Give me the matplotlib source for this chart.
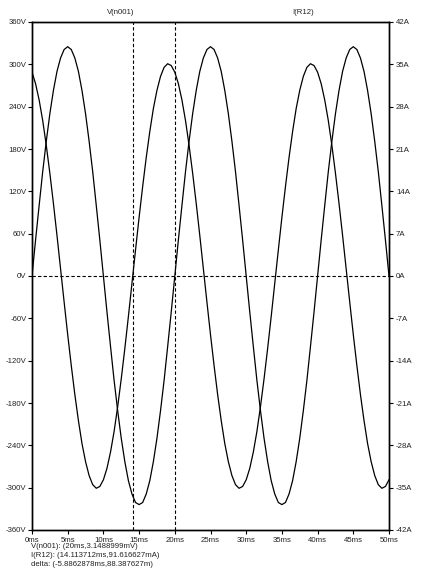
import matplotlib
matplotlib.use("Agg")
import matplotlib.pyplot as plt

# time axis in ms (0.5 ms steps, 0..50 ms)
time_ms = [i * 0.5 for i in range(101)]

# V(n001) in volts
v_n001 = [
    0, 51, 100, 148, 191, 230, 263, 290, 309, 321,
    325, 321, 309, 290, 263, 230, 191, 148, 100, 51,
    0, -51, -100, -148, -191, -230, -263, -290, -309, -321,
    -324, -321, -309, -290, -263, -230, -191, -148, -100, -51,
    0, 51, 100, 148, 191, 230, 263, 290, 309, 321,
    325, 321, 309, 290, 263, 230, 191, 148, 100, 51,
    0, -51, -100, -148, -191, -230, -263, -290, -309, -321,
    -324, -321, -309, -290, -263, -230, -191, -148, -100, -51,
    0, 51, 100, 148, 191, 230, 263, 290, 309, 321,
    325, 321, 309, 290, 263, 230, 191, 148, 100, 51,
    0,
]

# I(R12) in amperes
i_r12 = [
    33.7, 31.8, 29.1, 25.7, 21.6, 17.0, 12.0, 6.7, 1.2, -4.3,
    -9.7, -14.8, -19.6, -23.9, -27.7, -30.7, -33.0, -34.5, -35.1, -34.8,
    -33.7, -31.8, -29.1, -25.7, -21.6, -17.0, -12.0, -6.7, -1.2, 4.3,
    9.7, 14.8, 19.6, 23.9, 27.7, 30.7, 33.0, 34.5, 35.1, 34.8,
    33.7, 31.8, 29.1, 25.7, 21.6, 17.0, 12.0, 6.7, 1.2, -4.3,
    -9.7, -14.8, -19.6, -23.9, -27.7, -30.7, -33.0, -34.5, -35.1, -34.8,
    -33.7, -31.8, -29.1, -25.7, -21.6, -17.0, -12.0, -6.7, -1.2, 4.3,
    9.7, 14.8, 19.6, 23.9, 27.7, 30.7, 33.0, 34.5, 35.1, 34.8,
    33.7, 31.8, 29.1, 25.7, 21.6, 17.0, 12.0, 6.7, 1.2, -4.3,
    -9.7, -14.8, -19.6, -23.9, -27.7, -30.7, -33.0, -34.5, -35.1, -34.8,
    -33.7,
]

x_ticks = [0, 5, 10, 15, 20, 25, 30, 35, 40, 45, 50]
x_labels = ["0ms", "5ms", "10ms", "15ms", "20ms", "25ms", "30ms", "35ms", "40ms", "45ms", "50ms"]
v_ticks = [-360, -300, -240, -180, -120, -60, 0, 60, 120, 180, 240, 300, 360]
v_labels = [f"{v}V" for v in v_ticks]
i_ticks = [-42, -35, -28, -21, -14, -7, 0, 7, 14, 21, 28, 35, 42]
i_labels = [f"{v}A" for v in i_ticks]

cursor_times = [14.113712, 20.0]
trace_names = ["V(n001)", "I(R12)"]
readouts = [
    "V(n001): (20ms,3.1488999mV)",
    "I(R12): (14.113712ms,91.616627mA)",
    "delta: (-5.8862878ms,88.387627m)",
]

FONT = "Liberation Sans"
FS = 5.6
TC = "#222222"

W, H = 432, 569
fig = plt.figure(figsize=(W / 100, H / 100), dpi=100)
fig.patch.set_facecolor("white")
left, right, top, bottom = 32, 389, 22, 530
ax = fig.add_axes([left / W, (H - bottom) / H, (right - left) / W, (bottom - top) / H])
ax2 = ax.twinx()

ax.plot(time_ms, v_n001, color="black", lw=0.9)
ax2.plot(time_ms, i_r12, color="black", lw=0.9)

ax.set_xlim(0, 50)
ax.set_ylim(-360, 360)
ax2.set_ylim(-42, 42)

ax.axhline(0, color="black", lw=0.8, ls=(0, (3, 2)))
for t in cursor_times:
    ax.axvline(t, color="black", lw=0.8, ls=(0, (3, 2)))

ax.set_xticks(x_ticks)
ax.set_xticklabels(x_labels, fontsize=FS, family=FONT, color=TC)
ax.set_yticks(v_ticks)
ax.set_yticklabels(v_labels, fontsize=FS, family=FONT, color=TC)
ax2.set_yticks(i_ticks)
ax2.set_yticklabels(i_labels, fontsize=FS, family=FONT, color=TC)

ax.tick_params(axis="both", direction="out", length=3, width=0.8, pad=1, color="black")
ax.tick_params(axis="x", pad=2)
ax2.tick_params(axis="y", direction="out", length=3, width=0.8, pad=2, color="black")

for a in (ax, ax2):
    for s in a.spines.values():
        s.set_linewidth(1.0)
        s.set_color("black")

fig.text(121 / W, 1 - 13 / H, trace_names[0], ha="center", va="center",
         fontsize=FS, family=FONT, color=TC)
fig.text(303 / W, 1 - 13 / H, trace_names[1], ha="center", va="center",
         fontsize=FS, family=FONT, color=TC)

for k, txt in enumerate(readouts):
    fig.text(31 / W, 1 - (547 + 8.5 * k) / H, txt, ha="left", va="center",
             fontsize=FS, family=FONT, color=TC)

fig.savefig("out.png", dpi=100, facecolor="white")
